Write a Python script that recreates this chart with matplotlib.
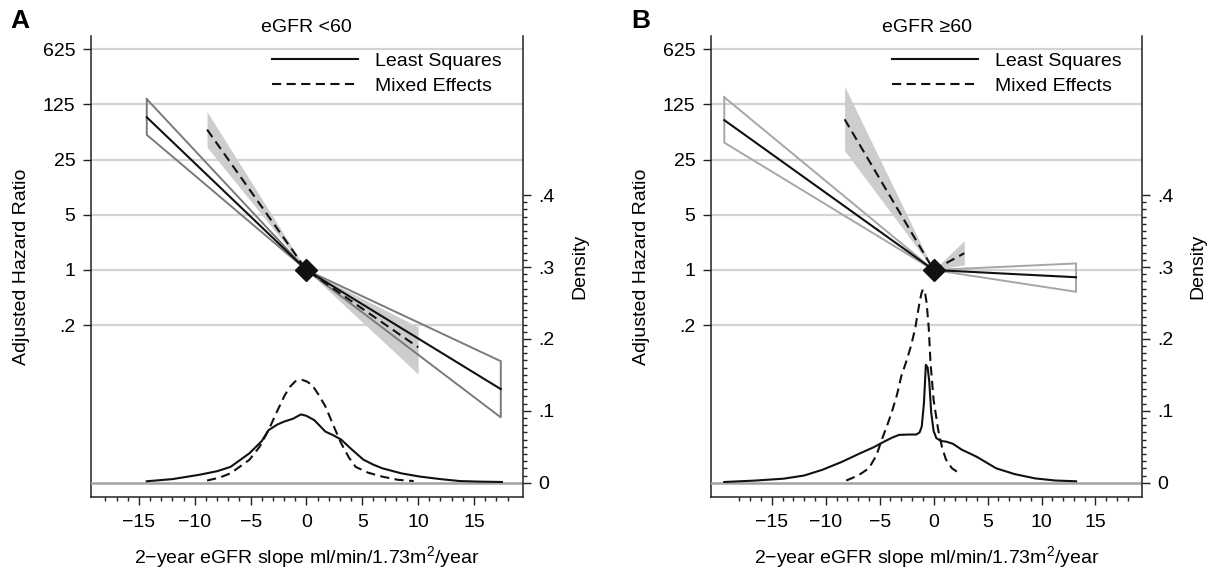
import matplotlib
matplotlib.use('Agg')
import matplotlib.pyplot as plt
from matplotlib.ticker import FixedLocator, NullFormatter, NullLocator

plt.rcParams['font.family'] = ['Liberation Sans', 'DejaVu Sans']
plt.rcParams['mathtext.fontset'] = 'custom'
plt.rcParams['mathtext.rm'] = 'Liberation Sans'
plt.rcParams['mathtext.it'] = 'Liberation Sans:italic'
plt.rcParams['mathtext.bf'] = 'Liberation Sans:bold'

# ---------------- data ----------------
hr_ticks = [625, 125, 25, 5, 1, 0.2]
hr_ticklabels = ['625', '125', '25', '5', '1', '.2']
dens_ticks = [0, 0.1, 0.2, 0.3, 0.4]
dens_ticklabels = ['0', '.1', '.2', '.3', '.4']
x_ticks = [-15, -10, -5, 0, 5, 10, 15]
x_ticklabels = ['\u221215', '\u221210', '\u22125', '0', '5', '10', '15']
x_minor = list(range(-18, 19))

titles = ['eGFR <60', 'eGFR \u226560']
panel_letters = ['A', 'B']
legend_labels = ['Least Squares', 'Mixed Effects']

# Panel A (eGFR <60): hazard ratio lines
a_ls_x = [-14.3, 0.0, 17.4]
a_ls_hr = [86.0, 1.0, 0.031]
a_ls_lo = [51.5, 1.0, 0.0136]
a_ls_hi = [146.0, 1.0, 0.070]
a_me_x = [-8.9, 0.0, 10.0]
a_me_hr = [60.0, 1.0, 0.105]
a_me_lo = [36.0, 1.0, 0.048]
a_me_hi = [101.0, 1.0, 0.19]

# Panel A densities
a_dls_x = [-14.3, -12.0, -9.6, -8.0, -6.8, -5.1, -4.0, -3.4, -2.6, -2.0, -1.2, -0.5, 0.0, 0.7, 1.2, 1.7,
           2.4, 3.1, 4.0, 5.1, 6.0, 6.8, 8.5, 10.2, 12.0, 13.7, 15.5, 17.5]
a_dls_y = [0.002, 0.005, 0.011, 0.016, 0.022, 0.041, 0.058, 0.073, 0.081, 0.085, 0.089, 0.095, 0.093, 0.087, 0.079, 0.071,
           0.066, 0.060, 0.047, 0.032, 0.025, 0.020, 0.013, 0.0084, 0.005, 0.0023, 0.0015, 0.001]
a_dme_x = [-8.9, -7.8, -6.8, -5.1, -4.2, -3.4, -2.7, -2.0, -1.5, -1.0, -0.4, 0.0, 0.5, 1.1, 1.7, 2.4, 3.1, 3.8, 4.4,
           5.5, 6.8, 8.2, 9.6]
a_dme_y = [0.003, 0.007, 0.013, 0.032, 0.050, 0.073, 0.097, 0.120, 0.133, 0.141, 0.143, 0.141, 0.136, 0.122, 0.106, 0.080,
           0.055, 0.035, 0.022, 0.014, 0.0084, 0.004, 0.0023]

# Panel B (eGFR >=60): hazard ratio lines
b_ls_x = [-19.4, 0.0, 13.2]
b_ls_hr = [79.0, 1.0, 0.81]
b_ls_lo = [41.0, 1.0, 0.53]
b_ls_hi = [154.0, 1.0, 1.21]
b_me_x = [-8.25, 0.0, 2.84]
b_me_hr = [81.0, 1.0, 1.63]
b_me_lo = [32.5, 1.0, 1.16]
b_me_hi = [212.0, 1.0, 2.35]

# Panel B densities
b_dls_x = [-19.4, -16.5, -13.9, -12.0, -10.3, -8.5, -6.8, -5.6, -4.6, -3.8, -3.2, -2.3, -1.6, -1.3, -1.1, -0.9, -0.72,
           -0.55, -0.4, -0.22, 0.0, 0.25, 0.7, 1.2, 1.8, 2.6, 4.0, 5.8, 7.5, 9.4, 11.3, 13.2]
b_dls_y = [0.001, 0.003, 0.0056, 0.010, 0.018, 0.029, 0.041, 0.049, 0.057, 0.063, 0.0665, 0.067, 0.067, 0.070, 0.078,
           0.110, 0.164, 0.160, 0.140, 0.097, 0.072, 0.062, 0.058, 0.057, 0.054, 0.046, 0.036, 0.020, 0.012, 0.006, 0.003, 0.002]
b_dme_x = [-8.1, -7.0, -6.0, -5.3, -4.8, -4.3, -3.9, -3.4, -3.0, -2.5, -2.1, -1.7, -1.36, -1.15, -1.0, -0.8, -0.65,
           -0.45, -0.29, 0.0, 0.43, 0.8, 1.15, 1.7, 2.4]
b_dme_y = [0.003, 0.010, 0.020, 0.038, 0.060, 0.080, 0.097, 0.122, 0.148, 0.170, 0.190, 0.215, 0.246, 0.262, 0.269, 0.265,
           0.250, 0.215, 0.167, 0.115, 0.073, 0.048, 0.032, 0.020, 0.013]

# ---------------- layout ----------------
W, H = 1217, 571
DPI = 100
FS = 14

fig = plt.figure(figsize=(W / DPI, H / DPI), dpi=DPI)
fig.patch.set_facecolor('white')


def rect(l, r, t, b):
    return [l / W, 1 - b / H, (r - l) / W, (b - t) / H]


def fx(x):
    return x / W


def fy(y):
    return 1 - y / H


TOP, BOT = 36.0, 497.3
Y1, PX_PER5 = 270.0, 55.2
D0, PX_PER_D = 482.7, 719.0
hr_lim = (5 ** (-(BOT - Y1) / PX_PER5), 5 ** ((Y1 - TOP) / PX_PER5))
d_lim = (-(BOT - D0) / PX_PER_D, (D0 - TOP) / PX_PER_D)

panels = [
    dict(l=90.7, r=522.7, xlim=(-19.32, 19.36), ci_col='#7a7a7a', leg_x=272, ylab_x=22, dens_x=580,
         ls=(a_ls_x, a_ls_hr, a_ls_lo, a_ls_hi), me=(a_me_x, a_me_hr, a_me_lo, a_me_hi),
         dls=(a_dls_x, a_dls_y), dme=(a_dme_x, a_dme_y), letter_x=20),
    dict(l=710.7, r=1142.4, xlim=(-20.66, 19.35), ci_col='#a6a6a6', leg_x=892, ylab_x=642, dens_x=1198,
         ls=(b_ls_x, b_ls_hr, b_ls_lo, b_ls_hi), me=(b_me_x, b_me_hr, b_me_lo, b_me_hi),
         dls=(b_dls_x, b_dls_y), dme=(b_dme_x, b_dme_y), letter_x=641),
]

SPINE_C = '#222222'
GRID_C = '#d3d3d3'
ZERO_C = '#a3a3a3'
FILL_C = '#cdcdcd'
LINE_C = '#111111'
DASH = (0, (4.4, 2.6))

for i, p in enumerate(panels):
    ax = fig.add_axes(rect(p['l'], p['r'], TOP, BOT))
    ax.set_yscale('log')
    ax.set_xlim(*p['xlim'])
    ax.set_ylim(*hr_lim)
    ax.set_facecolor('none')

    for v in hr_ticks:
        ax.axhline(v, color=GRID_C, lw=1.6, zorder=0)

    mx, mhr, mlo, mhi = p['me']
    ax.fill_between(mx, mlo, mhi, color=FILL_C, lw=0, zorder=1)
    lx, lhr, llo, lhi = p['ls']
    ox = [lx[0], lx[1], lx[2], lx[2], lx[1], lx[0], lx[0]]
    oy = [lhi[0], lhi[1], lhi[2], llo[2], llo[1], llo[0], lhi[0]]
    ax.plot(ox, oy, color=p['ci_col'], lw=1.4, zorder=2, solid_joinstyle='miter')
    h_ls, = ax.plot(lx, lhr, color=LINE_C, lw=1.5, zorder=3)
    h_me, = ax.plot(mx, mhr, color=LINE_C, lw=1.5, ls=DASH, zorder=3)
    ax.plot([0], [1], marker='D', ms=11, color=LINE_C, zorder=5, clip_on=False)

    ax.spines['top'].set_visible(False)
    ax.spines['right'].set_visible(False)
    for s in ('left', 'bottom'):
        ax.spines[s].set_color(SPINE_C)
        ax.spines[s].set_linewidth(1.1)
    ax.yaxis.set_major_locator(FixedLocator(hr_ticks))
    ax.yaxis.set_minor_locator(NullLocator())
    ax.set_yticklabels(hr_ticklabels)
    ax.yaxis.set_minor_formatter(NullFormatter())
    ax.set_xticks(x_ticks)
    ax.set_xticklabels(x_ticklabels)
    ax.xaxis.set_minor_locator(FixedLocator(x_minor))
    ax.tick_params(axis='both', which='major', length=6, width=1.0, color=SPINE_C, labelsize=FS, direction='out')
    ax.tick_params(axis='y', which='major', pad=5)
    ax.tick_params(axis='x', which='major', pad=6)
    ax.tick_params(axis='x', which='minor', length=3.2, width=1.0, color=SPINE_C)

    ax2 = ax.twinx()
    ax2.set_ylim(*d_lim)
    ax2.set_xlim(*p['xlim'])
    ax2.axhline(0, color=ZERO_C, lw=1.8, zorder=1)
    dx, dy = p['dls']
    ax2.plot(dx, dy, color=LINE_C, lw=1.5, zorder=3)
    ex, ey = p['dme']
    ax2.plot(ex, ey, color=LINE_C, lw=1.5, ls=DASH, zorder=3)
    ax2.spines['top'].set_visible(False)
    ax2.spines['left'].set_visible(False)
    ax2.spines['bottom'].set_visible(False)
    ax2.spines['right'].set_color(SPINE_C)
    ax2.spines['right'].set_linewidth(1.1)
    ax2.set_yticks(dens_ticks)
    ax2.set_yticklabels(dens_ticklabels)
    ax2.yaxis.set_minor_locator(FixedLocator([k / 100 for k in range(0, 41)]))
    ax2.tick_params(axis='y', which='major', length=6, width=1.0, color=SPINE_C, labelsize=FS, pad=5)
    ax2.tick_params(axis='y', which='minor', length=3.2, width=1.0, color=SPINE_C)

    ax.legend([h_ls, h_me], legend_labels, loc='upper left',
              bbox_to_anchor=(fx(p['leg_x']), fy(52)), bbox_transform=fig.transFigure,
              frameon=False, fontsize=FS, handlelength=4.4, handletextpad=0.9,
              labelspacing=0.4, borderpad=0, borderaxespad=0)

    cx = (p['l'] + p['r']) / 2
    fig.text(fx(cx), fy(28), titles[i], ha='center', va='center', fontsize=FS)
    fig.text(fx(p['letter_x']), fy(21), panel_letters[i], ha='center', va='center', fontsize=19, fontweight='bold')
    fig.text(fx(p['ylab_x']), fy((TOP + BOT) / 2), 'Adjusted Hazard Ratio', ha='center', va='center',
             rotation=90, fontsize=FS)
    fig.text(fx(p['dens_x']), fy((TOP + BOT) / 2), 'Density', ha='center', va='center',
             rotation=90, fontsize=FS)
    fig.text(fx(cx), fy(557), '2\u2212year eGFR slope ml/min/1.73m$^{2}$/year', ha='center', va='center',
             fontsize=FS)

fig.savefig('out.png', dpi=DPI, facecolor='white')
